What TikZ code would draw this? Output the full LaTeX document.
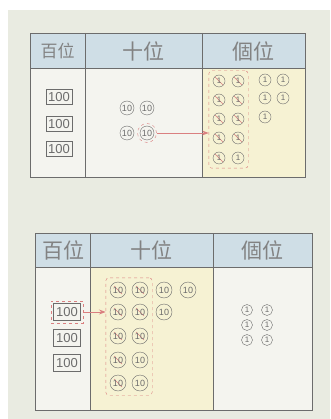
\documentclass[tikz,border=0pt]{standalone}
\usepackage{fontspec}
\setsansfont{Liberation Sans}
\newfontfamily\cjk{Noto Sans CJK TC}
\usetikzlibrary{arrows.meta,positioning,fit,calc}

\definecolor{paper}{HTML}{E9EBE1}
\definecolor{cellbg}{HTML}{F4F4EF}
\definecolor{headbg}{HTML}{CFDEE6}
\definecolor{yelbg}{HTML}{F6F2D3}
\definecolor{ink}{HTML}{6C6C6C}
\definecolor{redmark}{HTML}{DA7F80}

\begin{document}
\begin{tikzpicture}[x=1pt,y=-1pt,
      >=Stealth,
      hdr/.style={font=\cjk\fontsize{#1}{#1}\selectfont, text=ink!85},
      hund/.style={draw=ink, line width=0.9pt, minimum width=26pt, minimum height=15pt, inner sep=0pt,
        font=\sffamily\fontsize{13}{13}\selectfont, text=ink},
      ten/.style={draw=ink, circle, minimum size=#1, inner sep=0pt, font=\sffamily\fontsize{9}{9}\selectfont, text=ink},
      ten/.default=14pt,
      one/.style={draw=ink, circle, minimum size=#1, inner sep=0pt, font=\sffamily\fontsize{8}{8}\selectfont, text=ink},
      one/.default=12pt,
      crossed/.style={path picture={\draw[redmark, line width=0.6pt]
        ([shift={(-4pt,4pt)}]path picture bounding box.center) -- ([shift={(4pt,-4pt)}]path picture bounding box.center);}},
      grp/.style={draw=redmark, dashed, rounded corners=3pt, inner sep=4pt},
      moved/.style={->, draw=redmark, line width=0.8pt}]
    \useasboundingbox (0,0) rectangle (330,419);
    \fill[white] (0,0) rectangle (330,419);
    \fill[paper] (8,10) rectangle (330,419);

    % upper table
    \fill[cellbg] (30,33) rectangle (305,177);
    \fill[headbg] (30,33) rectangle (305,68);
    \fill[yelbg] (202,68) rectangle (305,177);
    \draw[ink, line width=0.8pt] (30,33) rectangle (305,177);
    \draw[ink, line width=0.6pt] (30,68) -- (305,68) (85,33) -- (85,177) (202,33) -- (202,177);
    \node[hdr=17] (uh1) at (57.5,51) {百位};
    \node[hdr=21] (uh2) at (143.5,51) {十位};
    \node[hdr=21] (uh3) at (253.5,51) {個位};

    \node[hund] (uhund1) at (59,97) {100};
    \node[hund] (uhund2) at (59,124) {100};
    \node[hund] (uhund3) at (59,149) {100};

    \node[ten] (uten1) at (127,108) {10};
    \node[ten] (uten2) at (147,108) {10};
    \node[ten] (uten3) at (127,133) {10};
    \node[ten] (uten4) at (147,133) {10};
    \node[draw=redmark, dashed, circle, minimum size=19pt] (uring) at (uten4) {};

    \foreach \y [count=\i] in {81,100,119,138,158}
      \node[one, crossed] (uone\i a) at (219,\y) {1};
    \foreach \y [count=\i] in {81,100,119,138}
      \node[one, crossed] (uone\i b) at (238,\y) {1};
    \node[one] (uone5b) at (238,158) {1};
    \node[grp, fit=(uone1a)(uone5b)] (ugroup) {};

    \node[one] (ufree1) at (265,80) {1};
    \node[one] (ufree2) at (283,80) {1};
    \node[one] (ufree3) at (265,98) {1};
    \node[one] (ufree4) at (283,98) {1};
    \node[one] (ufree5) at (265,117) {1};

    \draw[moved] (uring.east) -- (ugroup.west |- uring.east);

    % lower table
    \fill[cellbg] (35,233) rectangle (312,410);
    \fill[headbg] (35,233) rectangle (312,267);
    \fill[yelbg] (90,267) rectangle (213,410);
    \draw[ink, line width=0.8pt] (35,233) rectangle (312,410);
    \draw[ink, line width=0.6pt] (35,267) -- (312,267) (90,233) -- (90,410) (213,233) -- (213,410);
    \node[hdr=21] (lh1) at (63,250) {百位};
    \node[hdr=21] (lh2) at (151,250) {十位};
    \node[hdr=21] (lh3) at (262,250) {個位};

    \node[hund, minimum width=27pt, minimum height=17pt] (lhund1) at (67,312) {100};
    \node[hund, minimum width=27pt, minimum height=17pt] (lhund2) at (67,338) {100};
    \node[hund, minimum width=27pt, minimum height=17pt] (lhund3) at (67,363) {100};
    \node[draw=redmark, dashed, inner sep=2pt, fit=(lhund1)] (lring) {};

    \foreach \y [count=\i] in {290,312,336,360,383}
      \node[ten=16pt, crossed] (lten\i a) at (118,\y) {10};
    \foreach \y [count=\i] in {290,312,336}
      \node[ten=16pt, crossed] (lten\i b) at (140,\y) {10};
    \node[ten=16pt] (lten4b) at (140,360) {10};
    \node[ten=16pt] (lten5b) at (140,383) {10};
    \node[grp, fit=(lten1a)(lten5b)] (lgroup) {};

    \node[ten=16pt] (lfree1) at (164,290) {10};
    \node[ten=16pt] (lfree2) at (188,290) {10};
    \node[ten=16pt] (lfree3) at (164,312) {10};

    \draw[moved] (lring.east) -- (lgroup.west |- lring.east);

    \node[one=11pt] (lone1) at (247,310) {1};
    \node[one=11pt] (lone2) at (267,310) {1};
    \node[one=11pt] (lone3) at (247,325) {1};
    \node[one=11pt] (lone4) at (267,325) {1};
    \node[one=11pt] (lone5) at (247,340) {1};
    \node[one=11pt] (lone6) at (267,340) {1};
  \end{tikzpicture}
\end{document}
